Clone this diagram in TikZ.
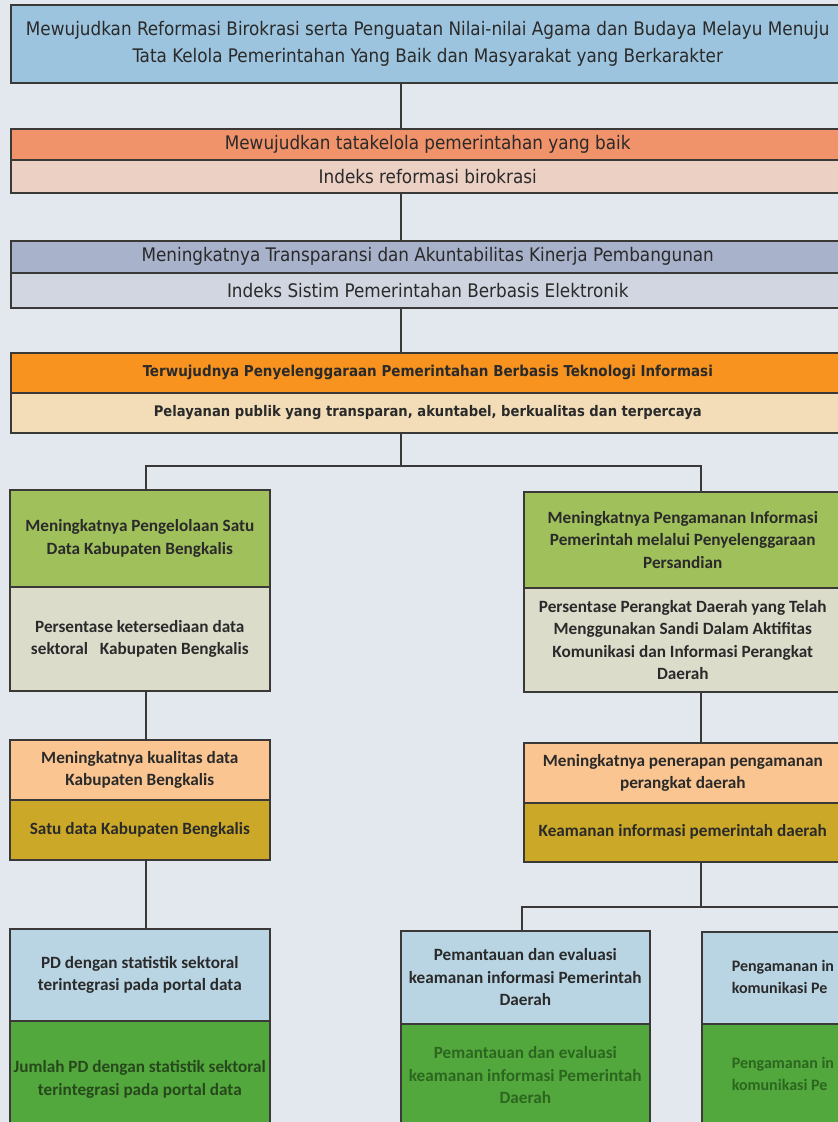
\documentclass[tikz,border=0pt]{standalone}
\usepackage{fontspec}
\setmainfont{Carlito}
\newfontfamily\headfont{DejaVu Sans Condensed}
\definecolor{paper}{HTML}{E3E7EE}
\definecolor{edge}{HTML}{3B3838}
\definecolor{ink}{HTML}{2A2A2A}
\definecolor{skyblue}{HTML}{9DC4DE}
\definecolor{salmon}{HTML}{F0926A}
\definecolor{blush}{HTML}{ECD0C4}
\definecolor{slate}{HTML}{A8B2CB}
\definecolor{mist}{HTML}{D2D6E0}
\definecolor{tangerine}{HTML}{F7931E}
\definecolor{cream}{HTML}{F2DDB8}
\definecolor{olive}{HTML}{A0C05C}
\definecolor{sage}{HTML}{DCDCCB}
\definecolor{peach}{HTML}{FAC591}
\definecolor{mustard}{HTML}{CBA827}
\definecolor{ice}{HTML}{B9D4E3}
\definecolor{grass}{HTML}{52A83C}
\definecolor{deepgreen}{HTML}{27481C}
\definecolor{leafink}{HTML}{2C6620}
\tikzset{
  part/.style={draw=edge, line width=1.6pt, rectangle, anchor=north west,
    inner sep=0pt, align=center, text=ink},
  wide/.style={part, minimum width=834pt, font=\headfont\fontsize{18.7}{27}\selectfont},
  widebold/.style={part, minimum width=834pt, font=\headfont\bfseries\fontsize{15}{18}\selectfont},
  cell/.style={part, font=\bfseries\fontsize{17.2}{22.5}\selectfont},
  link/.style={draw=edge, line width=1.4pt}
}
\begin{document}
\begin{tikzpicture}[x=1pt,y=-1pt]
\clip (0,0) rectangle (838,1122);
\fill[paper] (0,0) rectangle (838,1122);

% vertical spine of the top levels and the column axes
\coordinate (spine) at (401,0);
\coordinate (lx) at (146,0);
\coordinate (rx) at (701,0);
\coordinate (mx) at (522,0);

% top level goal
\node[wide, fill=skyblue, minimum height=78pt] (goal) at (10,4)
  {Mewujudkan Reformasi Birokrasi serta Penguatan Nilai-nilai Agama dan Budaya Melayu Menuju\\
   Tata Kelola Pemerintahan Yang Baik dan Masyarakat yang Berkarakter};

% level 1
\node[wide, fill=salmon, minimum height=31pt] (l1a) at (10,128)
  {Mewujudkan tatakelola pemerintahan yang baik};
\node[wide, fill=blush, minimum height=33pt] (l1b) at (10,159)
  {Indeks reformasi birokrasi};

% level 2
\node[wide, fill=slate, minimum height=32pt] (l2a) at (10,240)
  {Meningkatnya Transparansi dan Akuntabilitas Kinerja Pembangunan};
\node[wide, fill=mist, minimum height=35pt] (l2b) at (10,272)
  {Indeks Sistim Pemerintahan Berbasis Elektronik};

% level 3
\node[widebold, fill=tangerine, minimum height=40pt] (l3a) at (10,352)
  {Terwujudnya Penyelenggaraan Pemerintahan Berbasis Teknologi Informasi};
\node[widebold, fill=cream, minimum height=40pt, font=\headfont\bfseries\fontsize{14.6}{18}\selectfont] (l3b) at (10,392)
  {Pelayanan publik yang transparan, akuntabel, berkualitas dan terpercaya};

% left column
\node[cell, fill=olive, minimum width=260pt, minimum height=97pt] (la) at (9,489)
  {Meningkatnya Pengelolaan Satu\\Data Kabupaten Bengkalis};
\node[cell, fill=sage, minimum width=260pt, minimum height=104pt] (lb) at (9,586)
  {Persentase ketersediaan data\\sektoral\ \ \ Kabupaten Bengkalis};
\node[cell, fill=peach, minimum width=260pt, minimum height=60pt] (lc) at (9,739)
  {Meningkatnya kualitas data\\Kabupaten Bengkalis};
\node[cell, fill=mustard, minimum width=260pt, minimum height=60pt] (ld) at (9,799)
  {Satu data Kabupaten Bengkalis};
\node[cell, fill=ice, minimum width=260pt, minimum height=92pt] (le) at (9,928)
  {PD dengan statistik sektoral\\terintegrasi pada portal data};
\node[cell, fill=grass, text=deepgreen, minimum width=260pt, minimum height=117pt] (lf) at (9,1020)
  {Jumlah PD dengan statistik sektoral\\terintegrasi pada portal data};

% right column
\node[cell, fill=olive, minimum width=318pt, minimum height=96pt] (ra) at (523,491)
  {Meningkatnya Pengamanan Informasi\\Pemerintah melalui Penyelenggaraan\\Persandian};
\node[cell, fill=sage, minimum width=318pt, minimum height=104pt] (rb) at (523,587)
  {Persentase Perangkat Daerah yang Telah\\Menggunakan Sandi Dalam Aktifitas\\Komunikasi dan Informasi Perangkat\\Daerah};
\node[cell, fill=peach, minimum width=318pt, minimum height=60pt] (rc) at (523,742)
  {Meningkatnya penerapan pengamanan\\perangkat daerah};
\node[cell, fill=mustard, minimum width=318pt, minimum height=59pt] (rd) at (523,802)
  {Keamanan informasi pemerintah daerah};

% lowest level, middle box
\node[cell, fill=ice, minimum width=249pt, minimum height=93pt] (ma) at (400,930)
  {Pemantauan dan evaluasi\\keamanan informasi Pemerintah\\Daerah};
\node[cell, fill=grass, text=leafink, minimum width=249pt, minimum height=103pt] (mb) at (400,1023)
  {Pemantauan dan evaluasi\\keamanan informasi Pemerintah\\Daerah};

% lowest level, box running past the right edge
\node[part, fill=ice, minimum width=250pt, minimum height=92pt] (sa) at (701,931) {};
\node[part, fill=grass, minimum width=250pt, minimum height=103pt] (sb) at (701,1023) {};
\node[cell, anchor=west, align=left, draw=none, font=\bfseries\fontsize{16}{22.5}\selectfont] (sat) at (731,977)
  {Pengamanan in\\komunikasi Pe};
\node[cell, anchor=west, align=left, draw=none, text=leafink, font=\bfseries\fontsize{16}{22.5}\selectfont] (sbt) at (731,1074)
  {Pengamanan in\\komunikasi Pe};

% connectors
\coordinate (fork1) at (401,466);
\coordinate (fork2) at (701,907);
\coordinate (offright) at (850,907);
\draw[link] (goal.south -| spine) -- (l1a.north -| spine);
\draw[link] (l1b.south -| spine) -- (l2a.north -| spine);
\draw[link] (l2b.south -| spine) -- (l3a.north -| spine);
\draw[link] (l3b.south -| spine) -- (fork1);
\draw[link] (la.north -| lx) |- (fork1) -| (ra.north -| rx);
\draw[link] (lb.south -| lx) -- (lc.north -| lx);
\draw[link] (ld.south -| lx) -- (le.north -| lx);
\draw[link] (rb.south -| rx) -- (rc.north -| rx);
\draw[link] (rd.south -| rx) -- (fork2);
\draw[link] (ma.north -| mx) |- (fork2) -- (offright);
\end{tikzpicture}
\end{document}
